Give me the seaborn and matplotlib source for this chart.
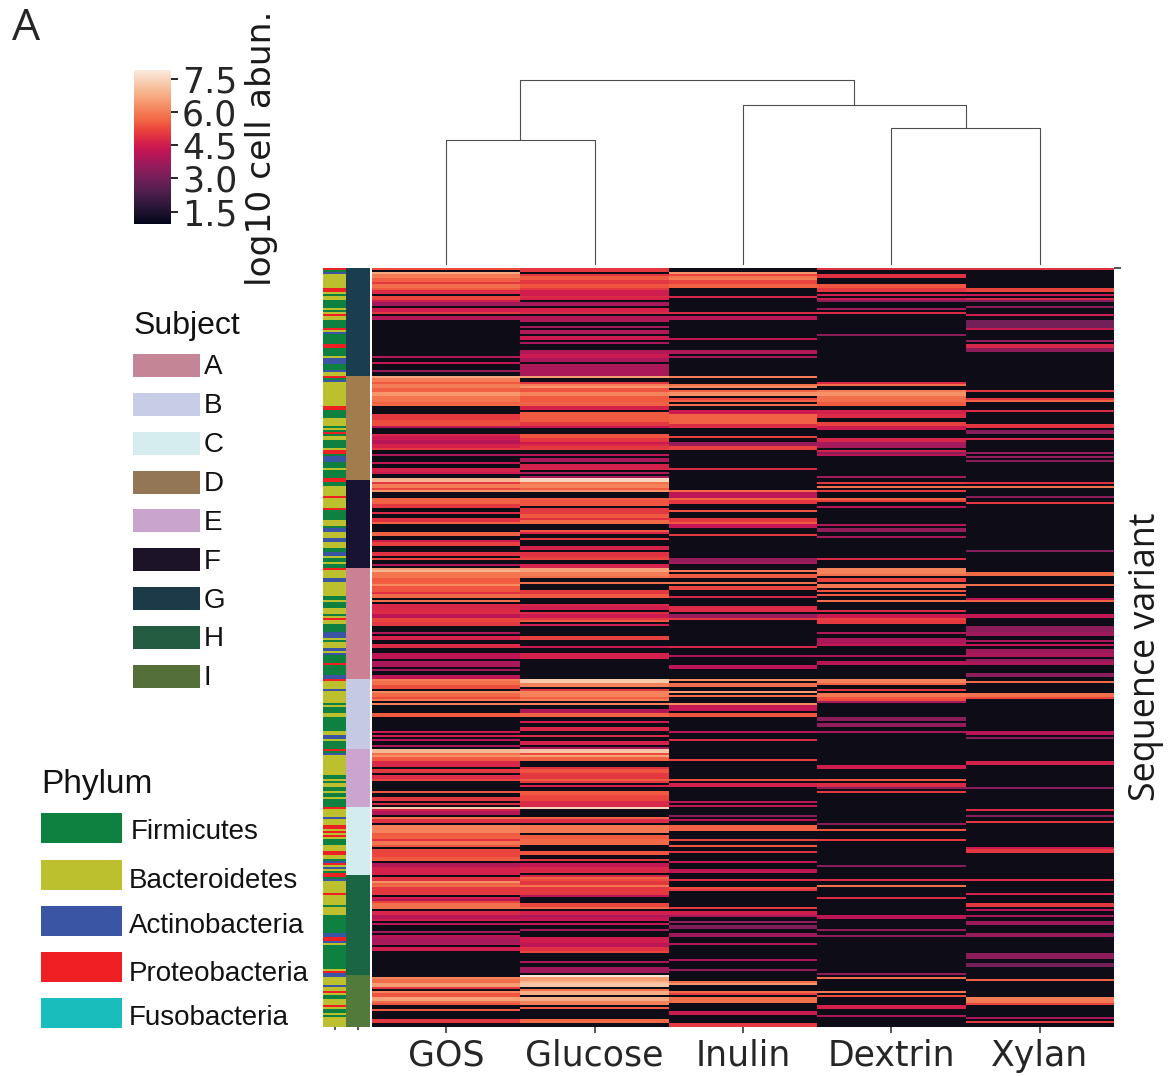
import numpy as np
import pandas as pd
import matplotlib.pyplot as plt
from matplotlib.colors import ListedColormap
from matplotlib.patches import Rectangle
import seaborn as sns

W, H = 1169, 1076
N_ROWS = 380

carbons = ["GOS", "Glucose", "Inulin", "Dextrin", "Xylan"]

# each band = (first row, number of rows, log10 abundance); every other row has no cells
gos = [
    (0,1,5.3),(2,1,6.7),(3,2,6.0),(5,2,5.6),(7,1,5.0),(8,2,5.8),(10,1,5.5),(11,2,4.8),(14,2,5.2),(16,1,4.5),
    (17,2,3.7),(20,2,4.5),(22,1,5.0),(24,2,4.0),(44,1,4.0),(47,1,4.3),(51,1,3.7),
    (54,1,6.7),(55,2,6.0),(57,1,5.5),(58,2,6.0),(60,2,5.6),(62,2,6.4),(64,3,5.9),(67,1,5.6),(68,1,5.7),
    (73,3,5.0),(76,3,5.3),(79,1,4.0),(83,1,4.7),(84,2,4.4),(86,2,4.1),(88,2,4.6),(90,1,5.0),(93,1,3.9),(97,1,4.3),
    (100,2,4.6),(102,1,4.4),(105,2,6.9),(107,1,5.0),(108,2,6.0),(110,1,5.2),(111,1,6.4),(115,3,5.6),(118,2,5.0),
    (122,1,4.8),(125,2,4.9),(127,1,5.6),(132,2,5.6),(136,1,4.5),(137,2,5.1),(142,2,4.9),(145,1,5.2),(148,1,3.9),
    (150,1,6.5),(151,1,6.9),(152,3,5.9),(155,2,5.5),(157,1,5.6),(158,1,6.2),(159,3,5.4),(162,1,4.9),(163,2,5.7),
    (166,1,5.8),(168,3,4.7),(171,2,4.8),(173,2,4.2),(175,2,5.2),(177,2,5.0),(182,1,4.0),(184,2,4.6),(188,2,4.8),
    (193,3,4.2),(197,3,3.9),(201,1,3.8),(204,2,4.2),
    (206,1,6.0),(207,2,5.8),(209,2,5.3),(212,1,6.2),(213,2,5.7),(215,1,5.3),(216,1,5.9),(218,1,6.0),(223,2,5.5),
    (232,1,4.4),(234,1,4.5),(236,1,4.1),(239,1,3.9),(241,2,7.0),(243,1,5.8),(244,1,6.3),(245,2,5.5),(247,3,4.7),
    (251,2,5.0),(254,2,4.8),(256,1,5.2),(262,1,5.4),(265,2,5.0),(268,1,4.8),(270,1,7.3),(271,1,4.6),(272,2,4.0),
    (275,1,5.8),(276,2,4.9),(279,4,6.1),(283,1,5.5),(284,2,5.6),(286,1,4.9),(287,2,5.9),(289,1,5.4),(291,4,5.2),
    (295,2,5.5),(298,2,4.0),(300,4,4.6),(305,2,4.9),(307,1,6.3),(308,1,5.6),(309,1,5.8),(310,4,5.0),(315,1,4.5),
    (316,1,4.1),(317,1,5.2),(318,3,5.8),(322,2,4.7),(324,2,4.1),(326,1,4.5),(328,1,4.1),(332,1,3.8),(334,1,4.2),
    (335,1,4.0),(336,2,3.8),(338,1,4.0),(340,2,4.5),(355,1,6.1),(356,2,5.8),(358,2,6.5),(360,1,5.0),(362,1,6.1),
    (363,2,5.4),(365,2,6.6),(367,1,5.8),(368,1,5.4),(371,1,5.5),(376,2,5.0),
]
glucose = [
    (0,2,5.0),(3,1,5.0),(4,2,5.5),(6,2,5.0),(8,2,5.4),(10,1,5.0),(11,3,4.5),(14,1,4.8),(15,1,4.6),(17,2,3.8),
    (20,2,4.6),(22,1,4.8),(24,3,4.0),(29,1,3.8),(31,2,4.0),(34,2,4.4),(37,1,3.9),(41,2,4.0),(43,2,4.4),(45,2,3.9),(48,6,3.9),
    (54,1,6.5),(57,1,5.0),(58,1,6.0),(59,1,6.4),(60,2,5.4),(62,2,6.1),(64,3,5.5),(67,2,5.6),(69,2,4.6),(72,5,5.5),
    (77,2,5.0),(79,1,4.3),(83,2,5.4),(85,2,5.0),(87,1,4.4),(88,1,4.8),(89,2,5.0),(93,1,4.1),(95,2,3.9),(98,3,4.6),
    (102,1,4.0),(104,1,3.8),(105,2,7.5),(107,1,5.8),(108,2,6.1),(110,1,5.5),(111,1,6.4),(115,1,5.5),(116,3,5.4),
    (120,3,5.0),(123,2,5.5),(125,1,4.9),(126,2,5.7),(131,1,5.4),(132,1,4.7),(135,1,5.0),(139,2,4.6),(142,2,4.9),
    (144,1,5.0),(145,1,5.2),(148,2,4.6),(150,1,6.6),(151,1,6.6),(152,2,6.0),(154,1,5.8),(157,1,5.8),(161,2,5.0),
    (163,2,5.5),(168,1,4.7),(169,2,4.5),(172,1,4.8),(173,2,4.4),(175,1,5.0),(176,1,5.5),(178,1,4.5),(184,2,5.1),
    (189,1,4.4),(193,3,4.6),(206,2,7.3),(208,2,6.1),(211,1,5.0),(212,3,6.1),(215,1,5.6),(216,1,6.0),(218,1,6.0),
    (221,2,4.0),(223,2,5.6),(227,1,4.5),(230,2,4.7),(234,1,4.8),(237,2,4.6),(240,1,3.9),(241,2,7.2),(243,1,5.3),
    (244,1,6.6),(245,2,5.6),(250,1,4.9),(251,2,5.4),(253,3,5.0),(256,1,5.5),(257,1,5.0),(259,1,4.6),(262,2,5.5),
    (264,1,5.2),(265,2,5.2),(267,3,4.7),(270,1,7.4),(275,1,5.6),(276,2,4.8),(279,4,5.9),(284,2,5.5),(286,3,5.7),
    (292,2,5.4),(296,1,5.0),(298,2,4.3),(300,3,4.7),(304,1,4.7),(305,1,5.6),(306,1,5.3),(307,2,5.0),(309,1,5.9),
    (310,4,5.0),(314,1,4.1),(318,2,5.2),(320,1,5.7),(322,2,4.6),(324,1,3.9),(325,2,4.3),(328,1,4.3),(331,1,3.8),
    (335,3,4.5),(338,2,4.2),(340,2,4.9),(342,1,5.2),(347,1,3.9),(350,3,3.7),(354,1,7.8),(355,2,6.5),(357,1,6.9),
    (358,2,7.2),(361,1,5.8),(362,2,6.8),(365,2,6.8),(367,2,6.1),(370,1,5.5),(376,2,5.7),
]
inulin = [
    (2,1,6.3),(3,1,5.2),(4,1,5.8),(5,1,6.0),(6,2,5.2),(8,2,5.6),(14,1,4.7),(22,1,4.8),(24,2,4.1),(35,1,4.3),(41,2,4.0),(44,1,3.9),
    (54,1,6.0),(58,1,5.8),(59,1,6.2),(61,1,5.6),(62,2,6.3),(65,1,5.2),(66,1,5.6),(68,1,5.8),(71,2,4.4),(73,3,5.6),
    (76,2,5.6),(78,2,4.8),(84,1,5.2),(87,2,3.6),(89,2,5.1),(100,1,4.8),(111,1,5.7),(112,3,4.2),(115,1,5.6),(116,2,5.0),
    (121,1,5.4),(125,2,5.0),(127,1,5.5),(128,2,4.3),(133,1,5.0),(145,2,3.5),(147,1,3.7),(151,1,5.9),(153,2,5.5),
    (157,1,5.8),(159,2,5.2),(164,1,4.7),(169,3,4.8),(173,2,3.6),(175,1,5.0),(189,1,4.7),(194,1,3.9),(199,2,4.2),
    (206,1,6.2),(208,2,5.8),(212,1,6.5),(214,1,5.8),(218,1,6.2),(219,3,4.3),(223,2,5.4),(232,1,4.1),(236,1,4.8),
    (246,1,5.1),(256,1,5.3),(258,2,4.6),(267,1,4.1),(269,1,4.3),(274,1,3.4),(276,1,4.2),(279,3,5.6),(286,1,5.2),
    (289,1,5.4),(292,1,4.9),(297,1,4.3),(301,2,4.2),(306,1,4.8),(310,1,5.3),(311,1,5.0),(320,1,5.0),(322,2,4.5),
    (324,1,3.9),(327,1,3.6),(329,2,3.2),(333,2,3.7),(338,1,4.0),(346,1,3.9),(351,1,3.5),(357,1,5.8),(358,1,6.4),
    (362,1,5.7),(363,1,5.1),(365,3,5.8),(372,2,4.4),(378,2,5.0),
]
dextrin = [
    (0,1,4.9),(3,2,4.9),(8,2,5.4),(10,2,5.0),(13,1,4.5),(15,1,4.4),(16,1,3.4),(20,1,3.8),(22,1,4.8),(33,1,3.4),
    (57,1,4.8),(58,1,5.8),(61,1,6.0),(62,2,6.3),(64,3,5.8),(67,2,5.5),(71,2,4.6),(73,2,4.8),(77,2,5.1),(79,2,4.4),
    (85,2,4.7),(87,3,3.8),(91,1,4.6),(92,1,3.4),(93,1,4.1),(104,1,3.8),(107,1,5.0),(109,1,5.8),(111,1,5.0),(115,1,5.6),
    (116,1,5.1),(119,1,4.1),(128,1,4.0),(130,2,3.5),(134,1,3.8),(145,1,4.8),(150,3,6.1),(153,1,5.8),(155,2,5.1),
    (158,2,5.9),(161,1,5.4),(163,1,5.5),(166,1,5.8),(171,1,4.8),(173,2,4.4),(175,1,5.1),(176,2,5.0),(182,1,4.0),
    (185,3,3.9),(188,1,4.3),(194,1,3.9),(197,2,4.1),(206,2,6.1),(208,1,5.6),(211,1,5.0),(213,2,5.9),(215,1,5.4),
    (216,1,5.3),(217,1,3.8),(225,2,3.4),(228,2,3.5),(232,1,3.9),(249,2,4.5),(256,1,5.4),(258,2,4.8),(260,1,3.4),
    (262,1,5.0),(278,1,3.4),(281,1,5.4),(286,1,5.0),(299,1,3.3),(306,1,4.8),(309,1,5.8),(315,1,4.8),(324,2,4.2),
    (331,1,3.5),(334,1,3.5),(353,1,3.5),(355,1,5.8),(362,1,5.9),(364,1,5.3),(369,2,4.6),(374,1,3.9),
]
xylan = [
    (0,1,4.9),(10,2,5.2),(13,1,4.3),(15,1,4.7),(16,1,3.3),(19,1,3.4),(23,1,4.5),(26,4,3.0),(30,1,4.4),(36,1,3.5),(38,2,4.7),(40,2,3.4),
    (61,1,5.0),(65,1,5.0),(66,1,5.6),(71,1,4.8),(78,1,5.0),(79,1,4.9),(81,2,3.3),(85,1,4.7),(92,1,3.5),(94,1,3.5),
    (96,1,3.3),(107,1,4.9),(109,1,5.8),(114,1,3.4),(117,1,5.0),(141,1,3.2),(152,2,5.7),(158,1,5.8),(165,1,4.2),
    (166,1,5.6),(173,2,4.3),(179,3,3.4),(182,2,3.7),(186,1,3.9),(188,1,4.3),(191,2,3.7),(193,1,3.9),(194,1,3.9),
    (196,1,3.3),(197,2,3.9),(203,2,3.4),(207,1,5.7),(213,2,5.8),(215,1,5.2),(232,2,4.1),(235,1,3.3),(247,2,4.6),
    (260,1,3.4),(271,1,4.8),(274,1,3.3),(277,1,5.0),(290,1,4.4),(291,2,5.0),(306,1,4.8),(313,1,4.6),(318,2,5.0),
    (321,1,4.1),(324,1,3.9),(327,2,3.7),(333,2,3.6),(343,3,3.4),(348,2,3.0),(356,1,5.6),(365,2,6.0),(367,1,5.9),
    (368,1,5.2),(375,1,3.9),(377,1,5.0),
]

# row colour strips, run-length: code + number of rows
phylum_names = ["Firmicutes", "Bacteroidetes", "Actinobacteria", "Proteobacteria", "Fusobacteria"]
phylum_colors = ["#0e8040", "#bcbf2e", "#3a55a4", "#ef2024", "#19bdbb"]
phylum_runs = (
    "P1 F1 A1 B7 P2 B1 F1 B2 F4 B1 F1 B1 P1 B2 F4 P1 B1 A1 F5 P2 F4 B1 A3 F3 A1 B2 "
    "P1 F1 A1 B12 P2 F4 B4 F1 B1 F1 P1 F1 B2 F4 B1 P2 F1 A3 F3 B1 F4 P2 F2 B5 P1 B5 P1 F5 "
    "B3 F1 A2 B3 A2 B3 F2 A2 B1 F2 B1 F2 P1 B4 A2 B7 F2 B1 F3 B3 F1 B1 P1 B2 F4 A3 B1 F1 B3 A2 "
    "B1 A1 F4 P1 F5 A2 P1 B4 A1 B6 F1 B1 F3 B2 F7 B2 A2 B1 F4 "
    "P1 F1 A1 B10 F2 B1 F1 B2 F2 B1 F2 B1 F4 P1 B4 A1 B3 P2 B1 P1 B1 P1 B1 F3 B3 P2 B2 F1 A1 P1 B1 A1 B1 F1 P2 F1 A1 "
    "B6 P1 B5 F1 B4 F9 A2 P2 A1 B1 F12 B1 P1 A2 B4 A1 B2 P1 B1 F2 B3 P1 B1 F2 B1 F1 B4"
)

subject_names = ["A", "B", "C", "D", "E", "F", "G", "H", "I"]
subject_colors = ["#c48597", "#c8cde7", "#d5edee", "#937656", "#c9a4cc", "#1c1329", "#1c3a47", "#245c42", "#556f38"]
subject_strip = ["#cb8094", "#c5c9e3", "#d3ecf0", "#a37c4e", "#cba5cf", "#181233", "#1a3d50", "#1a6644", "#527a3b"]
subject_order = ["G", "D", "F", "A", "B", "E", "C", "H", "I"]
subject_rows = [54, 52, 44, 56, 35, 29, 34, 50, 26]

# merges of the column tree: left x, right x (column units), left h, right h, height
link_x0 = [0.5, 3.5, 2.5, 1.0]
link_x1 = [1.5, 4.5, 4.0, 3.25]
link_h0 = [0, 0, 0, 125]
link_h1 = [0, 0, 137, 160]
link_top = [125, 137, 160, 185]

cbar_ticks = [1.5, 3.0, 4.5, 6.0, 7.5]


def fill(bands):
    col = np.full(N_ROWS, np.nan)
    for first, n, val in bands:
        col[first:first + n] = val
    return col


def axes_px(fig, x0, y0, x1, y1):
    return fig.add_axes([x0 / W, 1 - y1 / H, (x1 - x0) / W, (y1 - y0) / H])


def expand_runs(runs, codes):
    out = []
    for tok in runs.split():
        out += [codes.index(tok[0])] * int(tok[1:])
    out = (out + out[-1:] * N_ROWS)[:N_ROWS]
    return out


sns.set_theme(style="ticks")
plt.rcParams["font.family"] = ["DejaVu Sans"]

fig = plt.figure(figsize=(W / 100, H / 100), dpi=100)

# main heatmap
df = pd.DataFrame(dict(zip(carbons, [fill(gos), fill(glucose), fill(inulin), fill(dextrin), fill(xylan)])))
ax = axes_px(fig, 372, 268, 1114, 1027)
ax.set_facecolor("#0e0d17")
cax = axes_px(fig, 134, 70, 171, 224)
sns.heatmap(df, ax=ax, cbar_ax=cax, cmap="rocket", vmin=0.94, vmax=7.9, rasterized=True)
ax.set_xticks(np.arange(5) + 0.5, carbons, rotation=0, fontsize=25, color=".15")
ax.tick_params(axis="x", length=4.5, width=1.1, pad=4)
ax.yaxis.tick_right()
ax.set_yticks([0], [""])
ax.tick_params(axis="y", length=5, width=1.1, right=True, left=False)

cax.set_yticks(cbar_ticks, [str(t) for t in cbar_ticks])
cax.tick_params(axis="y", labelsize=25, length=5, width=1.4, pad=3, labelcolor=".15")
fig.text(262 / W, 1 - 148 / H, "log10 cell abun.", rotation=90, fontsize=24.8, color=".1", ha="center", va="center")

# row colour strips
phylum_codes = [n[0] for n in phylum_names]
phylum_col = expand_runs(phylum_runs, phylum_codes)
ax_ph = axes_px(fig, 323, 268, 346, 1027)
sns.heatmap(pd.DataFrame({"p": phylum_col}), ax=ax_ph, cbar=False, vmin=0, vmax=4,
            cmap=ListedColormap(phylum_colors), xticklabels=[""], yticklabels=False)

subject_col = []
for name, n in zip(subject_order, subject_rows):
    subject_col += [subject_names.index(name)] * n
ax_su = axes_px(fig, 346, 268, 370, 1027)
sns.heatmap(pd.DataFrame({"s": subject_col}), ax=ax_su, cbar=False, vmin=0, vmax=8,
            cmap=ListedColormap(subject_strip), xticklabels=[""], yticklabels=False)
for a in (ax_ph, ax_su):
    a.tick_params(axis="x", length=2, width=1.1)
    a.tick_params(axis="y", length=0)

# column dendrogram
ax_d = axes_px(fig, 372, 70, 1114, 265)
for x0, x1, h0, h1, top in zip(link_x0, link_x1, link_h0, link_h1, link_top):
    ax_d.plot([x0, x0, x1, x1], [h0, top, top, h1], color="#4d4d4d", lw=0.8)
ax_d.set_xlim(0, 5)
ax_d.set_ylim(0, 195)
ax_d.axis("off")

fig.text(1146 / W, 1 - 657 / H, "Sequence variant", rotation=90, fontsize=25.8, family="Open Sans",
         color=".1", ha="center", va="center")
fig.text(12 / W, 1 - 40 / H, "A", fontsize=32, family="Open Sans", color=".15", va="baseline")

# hand-placed legends
fig.text(134 / W, 1 - 334 / H, "Subject", fontsize=23, family="Liberation Sans", color=".07")
for i, (name, col) in enumerate(zip(subject_names, subject_colors)):
    y = 354 + i * 38.85
    fig.add_artist(Rectangle((133 / W, 1 - (y + 23) / H), 67 / W, 23 / H, transform=fig.transFigure, color=col, lw=0))
    fig.text(204 / W, 1 - (y + 20.5) / H, name, fontsize=20, family="Liberation Sans", color=".07")

fig.text(41 / W, 1 - 793 / H, "Phylum", fontsize=24, family="Liberation Sans", color=".07")
swatch_tops = [813, 860, 906, 952, 998]
text_base = [839, 888, 933, 981, 1025]
text_x = [131, 129, 129, 129, 129]
for name, col, top, base, tx in zip(phylum_names, phylum_colors, swatch_tops, text_base, text_x):
    fig.add_artist(Rectangle((41 / W, 1 - (top + 30) / H), 81 / W, 30 / H, transform=fig.transFigure, color=col, lw=0))
    fig.text(tx / W, 1 - base / H, name, fontsize=20, family="Liberation Sans", color=".07")

fig.savefig("out.png", dpi=100)
